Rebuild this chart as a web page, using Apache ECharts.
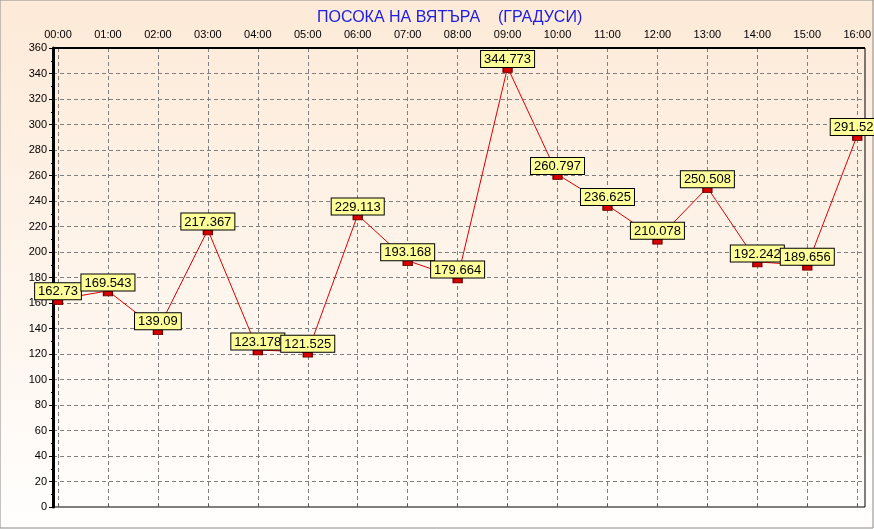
<!DOCTYPE html>
<html><head><meta charset="utf-8">
<script src="https://cdn.jsdelivr.net/npm/echarts@6/dist/echarts.min.js"></script>
<style>html,body{margin:0;padding:0;background:#fff}#c{width:874px;height:529px}</style>
</head><body><div id="c"></div>
<script>
const hours = ['00:00','01:00','02:00','03:00','04:00','05:00','06:00','07:00','08:00','09:00','10:00','11:00','12:00','13:00','14:00','15:00','16:00'];
const direction = [162.73,169.543,139.09,217.367,123.178,121.525,229.113,193.168,179.664,344.773,260.797,236.625,210.078,250.508,192.242,189.656,291.523];
const yMin = 0, yMax = 360, yStep = 20;
const titleText = 'ПОСОКА НА ВЯТЪРА    (ГРАДУСИ)';

const chart = echarts.init(document.getElementById('c'));
const font = 'Liberation Sans, Arial, sans-serif';
const dashed = {color:'#7f7f7f', type:[4,3], width:1};
chart.setOption({
  animation:false,
  backgroundColor:{type:'linear',x:0,y:0,x2:0,y2:1,colorStops:[{offset:0,color:'#fdead8'},{offset:1,color:'#fffefd'}]},
  title:{text:titleText,left:312,top:5,textStyle:{color:'#2020e0',fontSize:16,fontWeight:'normal',fontFamily:font}},
  graphic:[
    {type:'rect',shape:{x:0,y:0,width:873,height:528},style:{fill:'none',stroke:'#8a8a8a',lineWidth:1},silent:true},
    {type:'line',shape:{x1:53,y1:48,x2:865,y2:48},style:{stroke:'#000',lineWidth:2},silent:true,z:10}
  ],
  grid:[
    {left:53,right:9,top:48,bottom:22,show:true,borderColor:'#000',borderWidth:1,backgroundColor:'transparent'},
    {left:58,right:14,top:48,bottom:22}
  ],
  xAxis:[
    {gridIndex:0,type:'value',min:0,max:1,show:false},
    {gridIndex:1,type:'category',data:hours,boundaryGap:false,position:'top',
     axisLine:{show:false},axisTick:{show:true,inside:false,length:3,lineStyle:{color:'#555'}},
     axisLabel:{color:'#000',fontSize:11,fontFamily:font,margin:8},
     splitLine:{show:true,lineStyle:dashed}}
  ],
  yAxis:[
    {gridIndex:0,type:'value',min:yMin,max:yMax,interval:yStep,
     axisLine:{show:true,lineStyle:{color:'#000',width:3}},
     axisTick:{show:true,length:4,lineStyle:{color:'#000'}},
     minorTick:{show:true,splitNumber:2,length:2,lineStyle:{color:'#000'}},
     axisLabel:{color:'#000',fontSize:11,fontFamily:font,margin:6},
     splitLine:{show:true,lineStyle:dashed}},
    {gridIndex:1,type:'value',min:yMin,max:yMax,show:false}
  ],
  series:[{
    type:'line',xAxisIndex:1,yAxisIndex:1,data:direction,
    lineStyle:{color:'#e00000',width:1},
    symbol:'rect',symbolSize:[9,5],symbolOffset:[0,2.5],
    itemStyle:{color:'#d40000',borderColor:'#600',borderWidth:1},
    label:{show:true,position:'top',distance:0,color:'#000',fontSize:13,fontFamily:font,
      backgroundColor:'#ffff99',borderColor:'#000',borderWidth:1,padding:[2,3,1,3]}
  }]
});
</script></body></html>
